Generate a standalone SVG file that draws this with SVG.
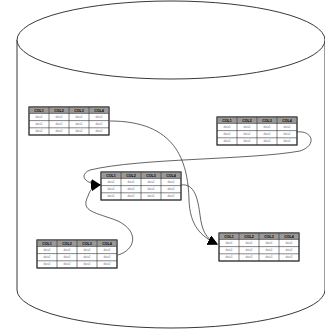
<svg xmlns="http://www.w3.org/2000/svg" width="325" height="332" viewBox="0 0 325 332">
  <style>
    .cyl { fill: #fff; stroke: #222; stroke-width: 0.9; }
    .tb { fill: #fff; stroke: #333; stroke-width: 0.9; }
    .fr { fill: none; stroke: #333; stroke-width: 0.9; }
    .hd { fill: #999; }
    .gl { stroke: #333; stroke-width: 0.6; }
    .ht { font-family: "Liberation Sans", Arial, sans-serif; font-size: 3.6px; font-weight: bold; fill: #000; text-anchor: middle; }
    .dt { font-family: "Liberation Sans", Arial, sans-serif; font-size: 2.8px; fill: #777; text-anchor: middle; }
    .cn { fill: none; stroke: #222; stroke-width: 0.7; }
  </style>
  <defs>
    <marker id="arrow" viewBox="0 0 10 10" refX="9" refY="5" markerWidth="10" markerHeight="10" markerUnits="userSpaceOnUse" orient="auto">
      <path d="M0,0 L10,5 L0,10 z" fill="#000"/>
    </marker>
  </defs>

  <!-- database cylinder -->
  <g id="database">
    <path class="cyl" d="M17,40 L17,290 A154,38 0 0 0 325,290 L325,40"/>
    <ellipse class="cyl" cx="171" cy="40" rx="154" ry="39"/>
  </g>

  <!-- connectors -->
  <g id="connectors">
    <path class="cn" d="M110,121 C175,121 188,160 189,200 C190,225 200,236 217,244" marker-end="url(#arrow)"/>
    <path class="cn" d="M297,132 C312,130 318,145 300,151 C250,160 140,158 90,170 C80,174 82,183 100,185" marker-end="url(#arrow)"/>
    <path class="cn" d="M118,255 C135,250 140,232 118,221 C95,212 80,212 88,196 C90,190 93,186 100,185" marker-end="url(#arrow)"/>
    <path class="cn" d="M181,185 C195,183 198,200 200,215 C202,230 205,238 217,244" marker-end="url(#arrow)"/>
  </g>

  <!-- table 1 -->
  <g id="table1" transform="translate(29,107)">
    <rect class="tb" x="0" y="0" width="80" height="28"/>
    <rect class="hd" x="0" y="0" width="80" height="6.4"/>
    <path class="gl" d="M20,0V28M40,0V28M60,0V28M0,6.4H80M0,13.6H80M0,20.8H80"/>
    <rect class="fr" x="0" y="0" width="80" height="28"/>
    <text class="ht" x="10" y="4.6">COL1</text><text class="ht" x="30" y="4.6">COL2</text><text class="ht" x="50" y="4.6">COL3</text><text class="ht" x="70" y="4.6">COL4</text>
    <text class="dt" x="10" y="11">data1</text><text class="dt" x="30" y="11">data1</text><text class="dt" x="50" y="11">data1</text><text class="dt" x="70" y="11">data1</text>
    <text class="dt" x="10" y="18.2">data1</text><text class="dt" x="30" y="18.2">data1</text><text class="dt" x="50" y="18.2">data1</text><text class="dt" x="70" y="18.2">data1</text>
    <text class="dt" x="10" y="25.4">data1</text><text class="dt" x="30" y="25.4">data1</text><text class="dt" x="50" y="25.4">data1</text><text class="dt" x="70" y="25.4">data1</text>
  </g>

  <!-- table 2 -->
  <g id="table2" transform="translate(217,117)">
    <rect class="tb" x="0" y="0" width="80" height="28"/>
    <rect class="hd" x="0" y="0" width="80" height="6.4"/>
    <path class="gl" d="M20,0V28M40,0V28M60,0V28M0,6.4H80M0,13.6H80M0,20.8H80"/>
    <rect class="fr" x="0" y="0" width="80" height="28"/>
    <text class="ht" x="10" y="4.6">COL1</text><text class="ht" x="30" y="4.6">COL2</text><text class="ht" x="50" y="4.6">COL3</text><text class="ht" x="70" y="4.6">COL4</text>
    <text class="dt" x="10" y="11">data1</text><text class="dt" x="30" y="11">data1</text><text class="dt" x="50" y="11">data1</text><text class="dt" x="70" y="11">data1</text>
    <text class="dt" x="10" y="18.2">data1</text><text class="dt" x="30" y="18.2">data1</text><text class="dt" x="50" y="18.2">data1</text><text class="dt" x="70" y="18.2">data1</text>
    <text class="dt" x="10" y="25.4">data1</text><text class="dt" x="30" y="25.4">data1</text><text class="dt" x="50" y="25.4">data1</text><text class="dt" x="70" y="25.4">data1</text>
  </g>

  <!-- table 3 -->
  <g id="table3" transform="translate(101,172)">
    <rect class="tb" x="0" y="0" width="80" height="28"/>
    <rect class="hd" x="0" y="0" width="80" height="6.4"/>
    <path class="gl" d="M20,0V28M40,0V28M60,0V28M0,6.4H80M0,13.6H80M0,20.8H80"/>
    <rect class="fr" x="0" y="0" width="80" height="28"/>
    <text class="ht" x="10" y="4.6">COL1</text><text class="ht" x="30" y="4.6">COL2</text><text class="ht" x="50" y="4.6">COL3</text><text class="ht" x="70" y="4.6">COL4</text>
    <text class="dt" x="10" y="11">data1</text><text class="dt" x="30" y="11">data1</text><text class="dt" x="50" y="11">data1</text><text class="dt" x="70" y="11">data1</text>
    <text class="dt" x="10" y="18.2">data1</text><text class="dt" x="30" y="18.2">data1</text><text class="dt" x="50" y="18.2">data1</text><text class="dt" x="70" y="18.2">data1</text>
    <text class="dt" x="10" y="25.4">data1</text><text class="dt" x="30" y="25.4">data1</text><text class="dt" x="50" y="25.4">data1</text><text class="dt" x="70" y="25.4">data1</text>
  </g>

  <!-- table 4 -->
  <g id="table4" transform="translate(37,240)">
    <rect class="tb" x="0" y="0" width="80" height="28"/>
    <rect class="hd" x="0" y="0" width="80" height="6.4"/>
    <path class="gl" d="M20,0V28M40,0V28M60,0V28M0,6.4H80M0,13.6H80M0,20.8H80"/>
    <rect class="fr" x="0" y="0" width="80" height="28"/>
    <text class="ht" x="10" y="4.6">COL1</text><text class="ht" x="30" y="4.6">COL2</text><text class="ht" x="50" y="4.6">COL3</text><text class="ht" x="70" y="4.6">COL4</text>
    <text class="dt" x="10" y="11">data1</text><text class="dt" x="30" y="11">data1</text><text class="dt" x="50" y="11">data1</text><text class="dt" x="70" y="11">data1</text>
    <text class="dt" x="10" y="18.2">data1</text><text class="dt" x="30" y="18.2">data1</text><text class="dt" x="50" y="18.2">data1</text><text class="dt" x="70" y="18.2">data1</text>
    <text class="dt" x="10" y="25.4">data1</text><text class="dt" x="30" y="25.4">data1</text><text class="dt" x="50" y="25.4">data1</text><text class="dt" x="70" y="25.4">data1</text>
  </g>

  <!-- table 5 -->
  <g id="table5" transform="translate(219,233)">
    <rect class="tb" x="0" y="0" width="80" height="28"/>
    <rect class="hd" x="0" y="0" width="80" height="6.4"/>
    <path class="gl" d="M20,0V28M40,0V28M60,0V28M0,6.4H80M0,13.6H80M0,20.8H80"/>
    <rect class="fr" x="0" y="0" width="80" height="28"/>
    <text class="ht" x="10" y="4.6">COL1</text><text class="ht" x="30" y="4.6">COL2</text><text class="ht" x="50" y="4.6">COL3</text><text class="ht" x="70" y="4.6">COL4</text>
    <text class="dt" x="10" y="11">data1</text><text class="dt" x="30" y="11">data1</text><text class="dt" x="50" y="11">data1</text><text class="dt" x="70" y="11">data1</text>
    <text class="dt" x="10" y="18.2">data1</text><text class="dt" x="30" y="18.2">data1</text><text class="dt" x="50" y="18.2">data1</text><text class="dt" x="70" y="18.2">data1</text>
    <text class="dt" x="10" y="25.4">data1</text><text class="dt" x="30" y="25.4">data1</text><text class="dt" x="50" y="25.4">data1</text><text class="dt" x="70" y="25.4">data1</text>
  </g>
</svg>
